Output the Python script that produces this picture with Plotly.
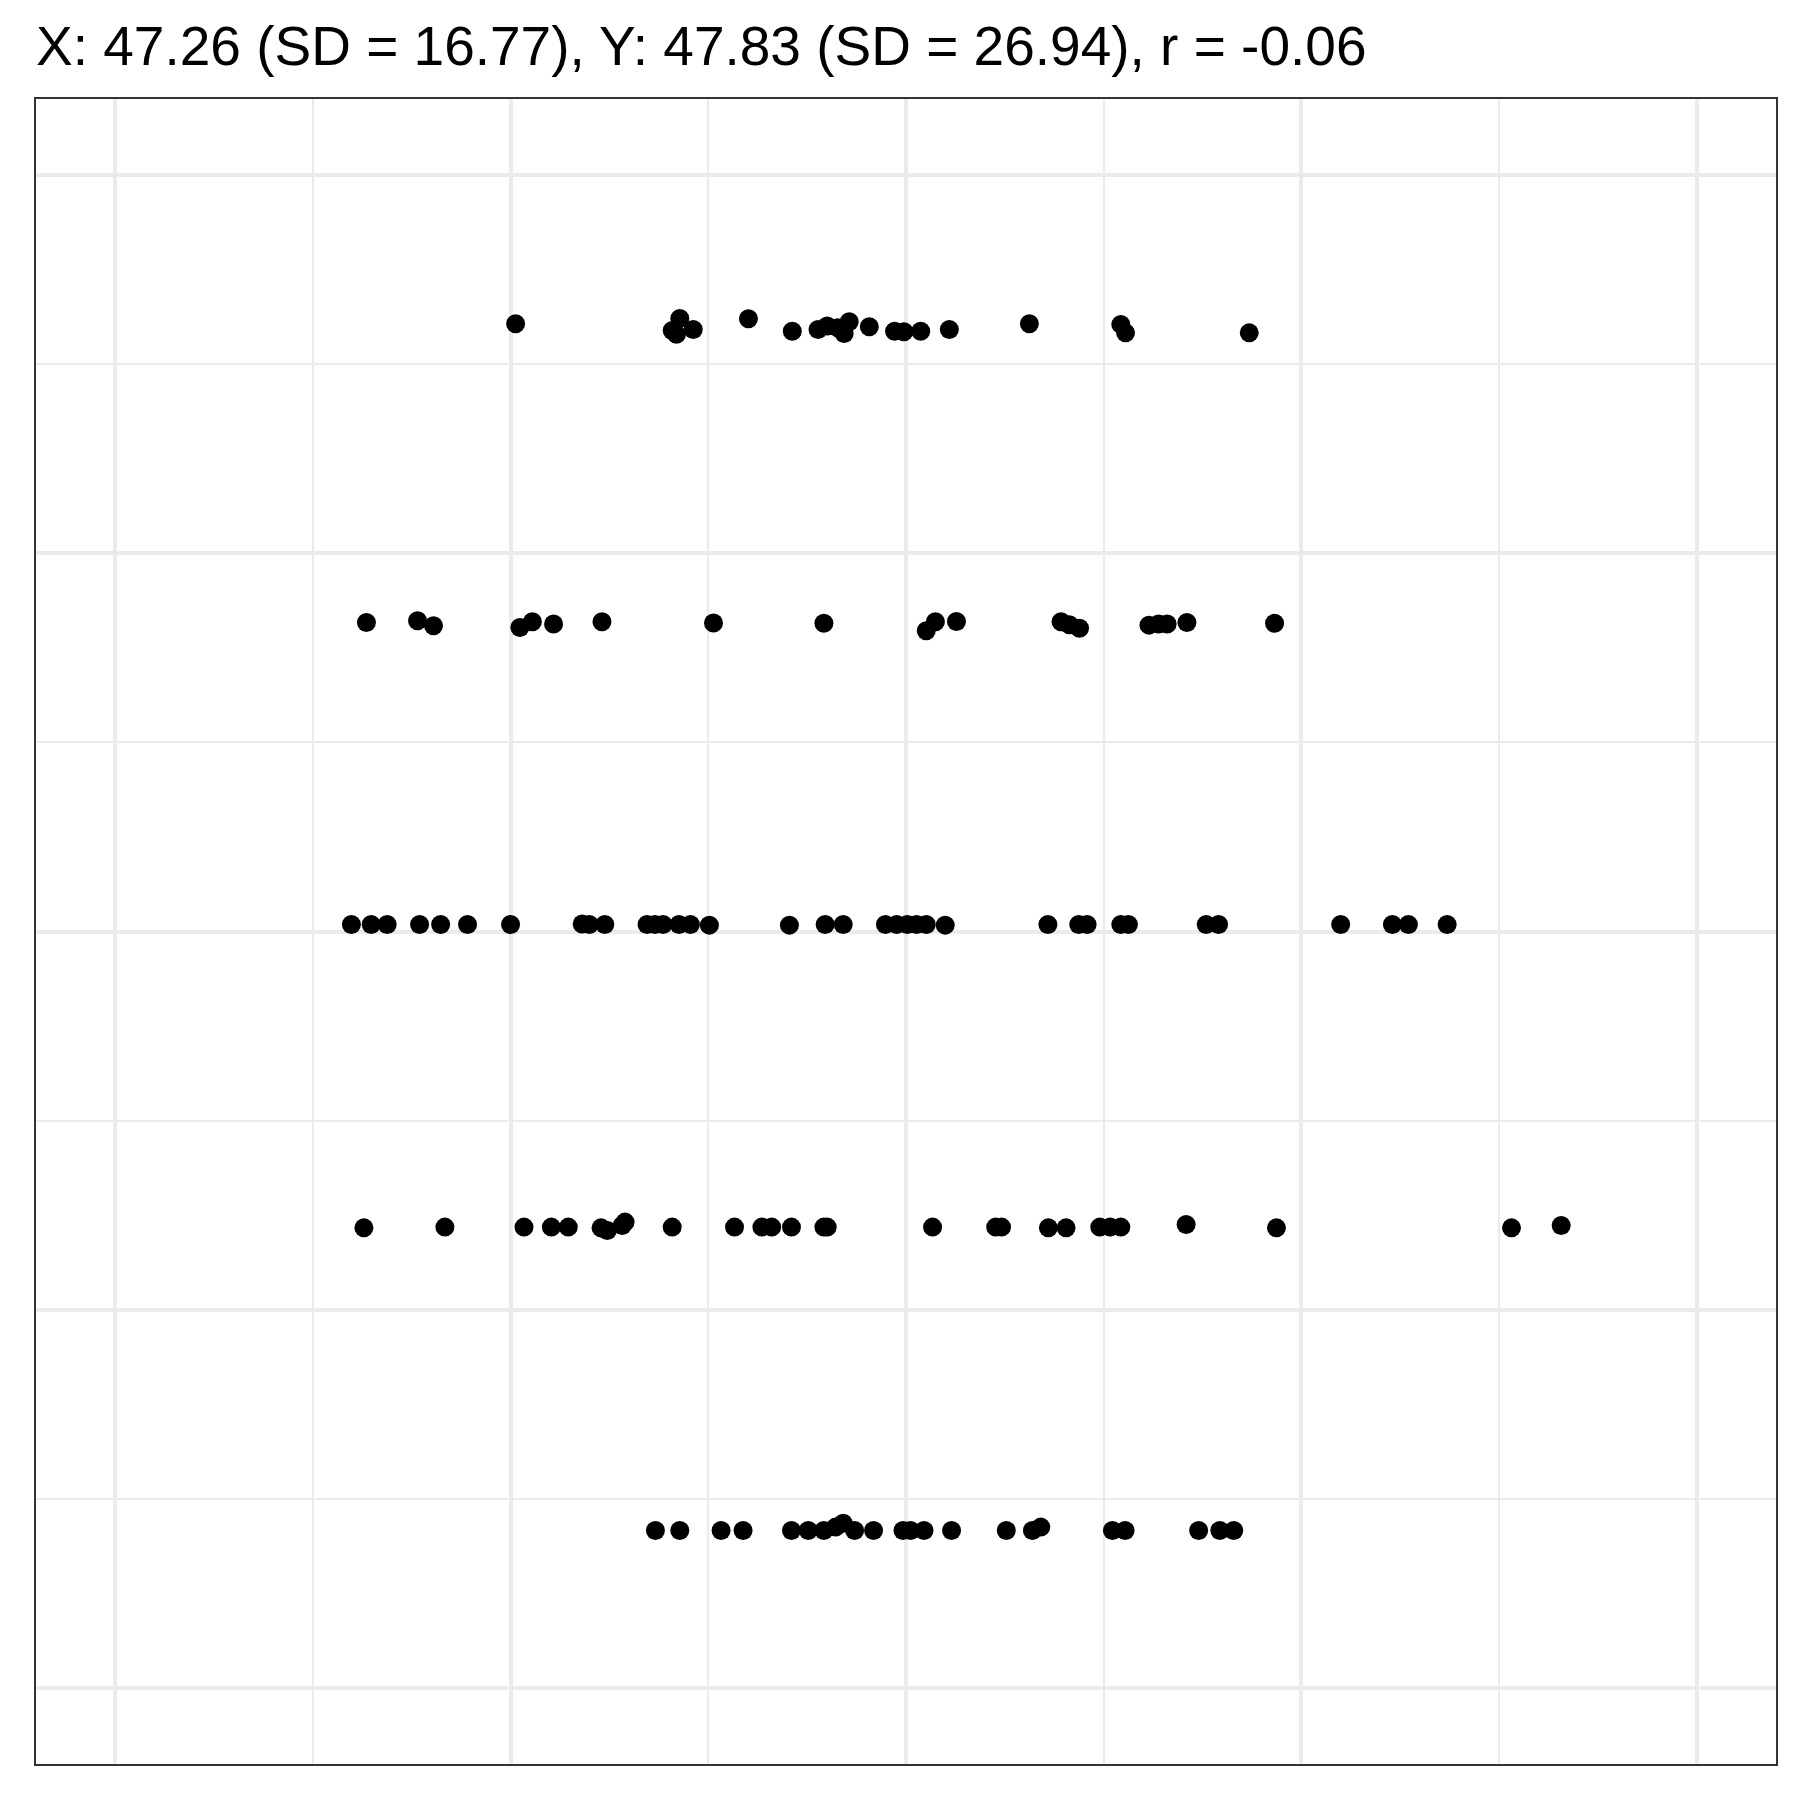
import plotly.graph_objects as go

# Row y ~90
x_row1 = [25.32, 35.70, 35.22, 35.49, 36.55, 40.04, 42.81, 44.44, 45.02, 45.69, 46.41, 46.09,
          47.68, 49.28, 49.87, 50.93, 52.74, 57.80, 63.58, 63.88, 71.70]
y_row1 = [90.15, 90.50, 89.71, 89.45, 89.77, 90.48, 89.66, 89.77, 90.00, 89.88, 90.28, 89.51,
          89.95, 89.66, 89.62, 89.66, 89.77, 90.15, 90.11, 89.55, 89.55]

# Row y ~70
x_row2 = [15.89, 19.12, 20.13, 25.59, 26.38, 27.72, 30.78, 37.83, 44.81, 51.28, 51.86, 53.19,
          59.80, 60.33, 60.97, 65.36, 65.97, 66.51, 67.76, 73.30]
y_row2 = [70.42, 70.53, 70.20, 70.09, 70.46, 70.31, 70.46, 70.38, 70.36, 69.87, 70.46, 70.48,
          70.46, 70.26, 70.04, 70.24, 70.31, 70.31, 70.42, 70.36]

# Row y ~50
x_row3 = [14.94, 16.19, 17.20, 19.25, 20.58, 22.28, 25.00, 29.53, 29.98, 30.96, 33.63, 34.13,
          34.64, 35.65, 36.37, 37.57, 42.63, 44.89, 46.03, 48.70, 49.41, 50.08, 50.67, 51.28,
          52.48, 58.97, 60.92, 61.45, 63.58, 64.06, 68.98, 69.76, 77.48, 80.75, 81.76, 84.21]
y_row3 = [50.46, 50.46, 50.46, 50.46, 50.46, 50.46, 50.46, 50.50, 50.46, 50.46, 50.46, 50.46,
          50.46, 50.46, 50.46, 50.42, 50.42, 50.46, 50.46, 50.46, 50.46, 50.46, 50.46, 50.46,
          50.42, 50.46, 50.46, 50.46, 50.46, 50.46, 50.46, 50.46, 50.46, 50.46, 50.46, 50.46]

# Row y ~30
x_row4 = [15.73, 20.85, 25.85, 27.58, 28.65, 30.72, 31.12, 32.06, 32.24, 35.22, 39.16, 40.89,
          41.51, 42.76, 44.81, 45.02, 51.68, 55.67, 56.04, 59.00, 60.12, 62.25, 62.91, 63.58,
          67.71, 73.42, 88.28, 91.42]
y_row4 = [30.42, 30.47, 30.47, 30.47, 30.47, 30.42, 30.24, 30.58, 30.80, 30.47, 30.47, 30.47,
          30.47, 30.47, 30.47, 30.47, 30.47, 30.47, 30.47, 30.42, 30.42, 30.47, 30.47, 30.47,
          30.64, 30.42, 30.42, 30.58]

# Row y ~10
x_row5 = [34.16, 35.70, 38.31, 39.70, 42.76, 43.82, 44.81, 45.55, 46.03, 46.75, 47.95, 49.81,
          50.29, 51.14, 52.88, 56.34, 57.99, 58.52, 63.05, 63.85, 68.50, 69.84, 70.72]
y_row5 = [10.43, 10.43, 10.43, 10.43, 10.43, 10.43, 10.43, 10.65, 10.91, 10.43, 10.43, 10.43,
          10.43, 10.43, 10.43, 10.43, 10.43, 10.65, 10.43, 10.43, 10.43, 10.43, 10.43]

title_text = "X: 47.26 (SD = 16.77), Y: 47.83 (SD = 26.94), r = -0.06"

xs = x_row1 + x_row2 + x_row3 + x_row4 + x_row5
ys = y_row1 + y_row2 + y_row3 + y_row4 + y_row5

fig = go.Figure()
fig.add_trace(go.Scatter(
    x=xs, y=ys, mode="markers",
    marker=dict(color="black", size=19, line=dict(width=0)),
    showlegend=False, hoverinfo="skip",
))

axis_common = dict(
    range=[-5, 105], tick0=0, dtick=25,
    showgrid=True, gridcolor="#EBEBEB", gridwidth=3.5,
    minor=dict(tick0=0, dtick=12.5, showgrid=True, gridcolor="#EBEBEB", gridwidth=1.8),
    showticklabels=False, ticks="", zeroline=False,
    showline=True, mirror=True, linecolor="#333333", linewidth=2,
    fixedrange=True,
)

fig.update_layout(
    width=1800, height=1800,
    paper_bgcolor="white", plot_bgcolor="white",
    margin=dict(l=28, r=32, t=91, b=44),
    xaxis=axis_common, yaxis=axis_common,
    title=dict(
        text=title_text,
        font=dict(family="Liberation Sans, Arial, sans-serif", size=55, color="black"),
        xref="paper", x=0, xanchor="left",
        yref="container", y=1 - 38 / 1800, yanchor="middle",
    ),
)

fig.write_html("out.html")
